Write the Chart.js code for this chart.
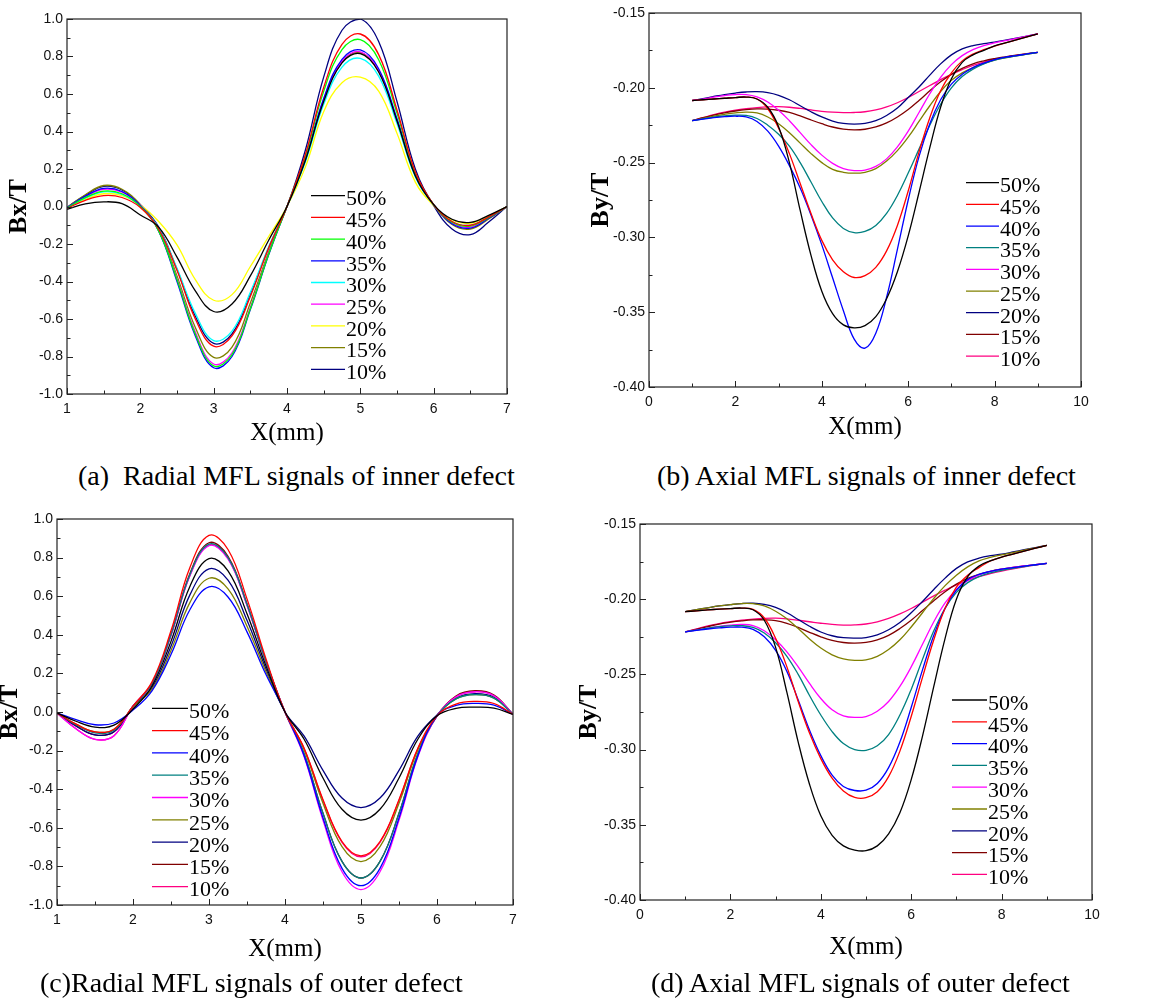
<!DOCTYPE html>
<html>
<head>
<meta charset="utf-8">
<script src="https://cdn.jsdelivr.net/npm/chart.js"></script>
<style>
  body { margin: 0; background: #fff; width: 1156px; height: 1001px; position: relative; overflow: hidden; }
  .box { position: absolute; }
  .cap { position: absolute; font-family: "Times New Roman", "Liberation Serif", serif; font-size: 28px; line-height: 28px; white-space: pre; color: #000; }
</style>
</head>
<body>
<div class="box" id="boxA"><canvas id="chartA"></canvas></div>
<div class="box" id="boxB"><canvas id="chartB"></canvas></div>
<div class="box" id="boxC"><canvas id="chartC"></canvas></div>
<div class="box" id="boxD"><canvas id="chartD"></canvas></div>

<div class="cap" style="left:78px;top:462px">(a)  Radial MFL signals of inner defect</div>
<div class="cap" style="left:657px;top:462px">(b) Axial MFL signals of inner defect</div>
<div class="cap" style="left:40px;top:969px">(c)Radial MFL signals of outer defect</div>
<div class="cap" style="left:651px;top:969px">(d) Axial MFL signals of outer defect</div>

<script>
// defect depths, same order in every panel
const depthLabels = ['50%', '45%', '40%', '35%', '30%', '25%', '20%', '15%', '10%'];

// x positions (mm)
const xRadial = [1, 1.25, 1.5, 1.75, 2, 2.25, 2.5, 2.75, 3, 3.25, 3.5, 3.75, 4, 4.25, 4.5, 4.75, 5, 5.25, 5.5, 5.75, 6, 6.25, 6.5, 6.75, 7];
const xAxial = [1, 1.25, 1.5, 1.75, 2, 2.25, 2.5, 2.75, 3, 3.25, 3.5, 3.75, 4, 4.25, 4.5, 4.75, 5, 5.25, 5.5, 5.75, 6, 6.25, 6.5, 6.75, 7, 7.25, 7.5, 7.75, 8, 8.25, 8.5, 8.75, 9];

// (a) radial signal, inner defect (Bx/T)
const a50 = [-0.015, 0.014, 0.025, 0.015, -0.045, -0.11, -0.27, -0.45, -0.56, -0.52, -0.37, -0.18, 0, 0.245, 0.56, 0.766, 0.815, 0.717, 0.456, 0.163, 0.01, -0.068, -0.085, -0.047, 0];
const a45 = [-0.01, 0.033, 0.058, 0.048, -0.005, -0.12, -0.34, -0.60, -0.745, -0.69, -0.48, -0.22, 0, 0.276, 0.635, 0.865, 0.92, 0.81, 0.515, 0.184, 0.01, -0.08, -0.10, -0.055, 0];
const a40 = [-0.008, 0.047, 0.082, 0.068, 0, -0.13, -0.39, -0.68, -0.85, -0.79, -0.545, -0.255, 0, 0.267, 0.614, 0.837, 0.89, 0.783, 0.498, 0.178, 0.01, -0.084, -0.105, -0.058, 0];
const a35 = [-0.006, 0.055, 0.097, 0.08, 0.005, -0.13, -0.40, -0.69, -0.86, -0.80, -0.55, -0.258, 0, 0.25, 0.576, 0.785, 0.835, 0.735, 0.468, 0.167, 0.01, -0.092, -0.115, -0.063, 0];
const a30 = [-0.008, 0.044, 0.078, 0.064, 0, -0.115, -0.33, -0.57, -0.715, -0.665, -0.458, -0.215, 0, 0.237, 0.545, 0.743, 0.79, 0.695, 0.442, 0.158, 0.01, -0.08, -0.10, -0.055, 0];
const a25 = [-0.006, 0.052, 0.092, 0.076, 0.005, -0.13, -0.385, -0.67, -0.84, -0.78, -0.538, -0.252, 0, 0.248, 0.569, 0.776, 0.825, 0.726, 0.462, 0.165, 0.01, -0.088, -0.11, -0.06, 0];
const a20 = [-0.008, 0.038, 0.068, 0.058, 0.008, -0.08, -0.205, -0.39, -0.50, -0.47, -0.32, -0.16, 0, 0.21, 0.505, 0.66, 0.69, 0.615, 0.39, 0.13, 0.005, -0.072, -0.09, -0.05, 0];
const a15 = [-0.005, 0.063, 0.112, 0.092, 0.01, -0.12, -0.37, -0.645, -0.805, -0.75, -0.515, -0.242, 0, 0.246, 0.566, 0.771, 0.82, 0.722, 0.459, 0.164, 0.01, -0.096, -0.12, -0.066, 0];
const a10 = [-0.005, 0.06, 0.107, 0.088, 0.01, -0.11, -0.335, -0.585, -0.73, -0.68, -0.467, -0.22, 0, 0.30, 0.69, 0.94, 1.0, 0.88, 0.56, 0.20, 0.005, -0.12, -0.15, -0.083, 0];

// (b) axial signal, inner defect (By/T)
const b50 = [-0.2085, -0.2080, -0.2075, -0.2070, -0.2065, -0.2062, -0.2075, -0.2130, -0.2260, -0.2500, -0.2820, -0.3120, -0.3360, -0.3510, -0.3585, -0.3605, -0.3590, -0.3530, -0.3410, -0.3230, -0.2990, -0.2700, -0.2400, -0.2130, -0.1940, -0.1830, -0.1780, -0.1750, -0.1720, -0.1700, -0.1680, -0.1660, -0.1640];
const b45 = [-0.2085, -0.2080, -0.2075, -0.2070, -0.2065, -0.2062, -0.2075, -0.2140, -0.2270, -0.2440, -0.2640, -0.2840, -0.3020, -0.3150, -0.3230, -0.3268, -0.3255, -0.3200, -0.3090, -0.2920, -0.2690, -0.2430, -0.2200, -0.2020, -0.1900, -0.1820, -0.1775, -0.1745, -0.1722, -0.1700, -0.1680, -0.1660, -0.1640];
const b40 = [-0.2220, -0.2210, -0.2200, -0.2193, -0.2190, -0.2195, -0.2225, -0.2290, -0.2390, -0.2520, -0.2670, -0.2850, -0.3050, -0.3270, -0.3490, -0.3680, -0.3740, -0.3640, -0.3400, -0.3080, -0.2750, -0.2460, -0.2240, -0.2080, -0.1975, -0.1910, -0.1865, -0.1835, -0.1812, -0.1795, -0.1785, -0.1773, -0.1763];
const b35 = [-0.2220, -0.2208, -0.2196, -0.2188, -0.2183, -0.2185, -0.2205, -0.2250, -0.2310, -0.2390, -0.2500, -0.2630, -0.2760, -0.2870, -0.2940, -0.2968, -0.2960, -0.2920, -0.2840, -0.2720, -0.2570, -0.2410, -0.2250, -0.2110, -0.2000, -0.1925, -0.1875, -0.1840, -0.1815, -0.1798, -0.1787, -0.1775, -0.1763];
const b30 = [-0.2085, -0.2075, -0.2063, -0.2052, -0.2045, -0.2045, -0.2060, -0.2095, -0.2150, -0.2220, -0.2300, -0.2380, -0.2450, -0.2505, -0.2540, -0.2553, -0.2550, -0.2525, -0.2475, -0.2395, -0.2290, -0.2165, -0.2040, -0.1930, -0.1845, -0.1785, -0.1745, -0.1718, -0.1700, -0.1685, -0.1670, -0.1655, -0.1640];
const b25 = [-0.2220, -0.2205, -0.2190, -0.2177, -0.2167, -0.2162, -0.2168, -0.2195, -0.2240, -0.2300, -0.2370, -0.2440, -0.2500, -0.2545, -0.2565, -0.2571, -0.2565, -0.2540, -0.2490, -0.2420, -0.2330, -0.2225, -0.2120, -0.2025, -0.1950, -0.1900, -0.1865, -0.1838, -0.1815, -0.1800, -0.1787, -0.1775, -0.1763];
const b20 = [-0.2085, -0.2072, -0.2058, -0.2045, -0.2035, -0.2028, -0.2026, -0.2032, -0.2050, -0.2080, -0.2120, -0.2160, -0.2195, -0.2222, -0.2238, -0.2243, -0.2238, -0.2220, -0.2185, -0.2135, -0.2065, -0.1995, -0.1915, -0.1840, -0.1780, -0.1740, -0.1718, -0.1705, -0.1695, -0.1682, -0.1668, -0.1654, -0.1640];
const b15 = [-0.2220, -0.2200, -0.2182, -0.2167, -0.2155, -0.2146, -0.2141, -0.2142, -0.2150, -0.2165, -0.2188, -0.2215, -0.2240, -0.2262, -0.2276, -0.2281, -0.2277, -0.2262, -0.2235, -0.2195, -0.2145, -0.2085, -0.2020, -0.1960, -0.1910, -0.1870, -0.1840, -0.1820, -0.1805, -0.1793, -0.1782, -0.1772, -0.1763];
const b10 = [-0.2220, -0.2200, -0.2180, -0.2163, -0.2150, -0.2140, -0.2132, -0.2127, -0.2126, -0.2130, -0.2138, -0.2148, -0.2157, -0.2163, -0.2166, -0.2165, -0.2160, -0.2148, -0.2128, -0.2100, -0.2065, -0.2025, -0.1985, -0.1945, -0.1910, -0.1878, -0.1850, -0.1828, -0.1810, -0.1796, -0.1784, -0.1773, -0.1763];

// (c) radial signal, outer defect (Bx/T)
const c50 = [-0.005, -0.048, -0.078, -0.068, 0.015, 0.135, 0.366, 0.652, 0.795, 0.731, 0.509, 0.239, 0, -0.14, -0.342, -0.504, -0.56, -0.504, -0.342, -0.14, -0.02, 0.019, 0.025, 0.02, -0.012];
const c45 = [-0.005, -0.063, -0.103, -0.089, 0.03, 0.156, 0.421, 0.75, 0.915, 0.842, 0.586, 0.275, 0, -0.186, -0.454, -0.671, -0.745, -0.671, -0.454, -0.186, -0.02, 0.041, 0.055, 0.044, -0.012];
const c40 = [-0.004, -0.04, -0.066, -0.057, 0.01, 0.11, 0.298, 0.531, 0.648, 0.596, 0.415, 0.194, 0, -0.225, -0.549, -0.81, -0.90, -0.81, -0.549, -0.225, -0.02, 0.034, 0.045, 0.036, -0.012];
const c35 = [-0.005, -0.066, -0.108, -0.094, 0.03, 0.148, 0.40, 0.713, 0.87, 0.80, 0.557, 0.261, 0, -0.215, -0.525, -0.774, -0.86, -0.774, -0.525, -0.215, -0.02, 0.068, 0.09, 0.072, -0.012];
const c30 = [-0.006, -0.087, -0.142, -0.123, 0.03, 0.147, 0.397, 0.707, 0.862, 0.793, 0.552, 0.259, 0, -0.23, -0.561, -0.828, -0.92, -0.828, -0.561, -0.23, -0.02, 0.079, 0.105, 0.084, -0.012];
const c25 = [-0.005, -0.063, -0.103, -0.089, 0.025, 0.118, 0.319, 0.568, 0.693, 0.638, 0.444, 0.208, 0, -0.194, -0.473, -0.698, -0.775, -0.698, -0.473, -0.194, -0.02, 0.068, 0.09, 0.072, -0.012];
const c20 = [-0.005, -0.072, -0.118, -0.102, 0.025, 0.126, 0.341, 0.608, 0.742, 0.683, 0.475, 0.223, 0, -0.124, -0.302, -0.446, -0.495, -0.446, -0.302, -0.124, -0.015, 0.071, 0.095, 0.076, -0.012];
const c15 = [-0.005, -0.072, -0.118, -0.102, 0.03, 0.149, 0.403, 0.719, 0.877, 0.807, 0.561, 0.263, 0, -0.215, -0.525, -0.774, -0.86, -0.774, -0.525, -0.215, -0.02, 0.083, 0.11, 0.088, -0.012];
const c10 = [-0.006, -0.087, -0.142, -0.123, 0.03, 0.147, 0.398, 0.709, 0.865, 0.796, 0.554, 0.26, 0, -0.188, -0.458, -0.675, -0.75, -0.675, -0.458, -0.188, -0.02, 0.079, 0.105, 0.084, -0.012];

// (d) axial signal, outer defect (By/T)
const d50 = [-0.2083, -0.2077, -0.2071, -0.2066, -0.2062, -0.2059, -0.2070, -0.2140, -0.2320, -0.2620, -0.2950, -0.3230, -0.3440, -0.3570, -0.3640, -0.3668, -0.3672, -0.3640, -0.3560, -0.3420, -0.3200, -0.2910, -0.2580, -0.2260, -0.2000, -0.1850, -0.1780, -0.1745, -0.1720, -0.1700, -0.1680, -0.1661, -0.1642];
const d45 = [-0.2083, -0.2077, -0.2071, -0.2066, -0.2062, -0.2059, -0.2068, -0.2125, -0.2260, -0.2450, -0.2680, -0.2890, -0.3060, -0.3190, -0.3275, -0.3318, -0.3320, -0.3280, -0.3180, -0.3010, -0.2780, -0.2520, -0.2270, -0.2060, -0.1920, -0.1840, -0.1790, -0.1745, -0.1720, -0.1700, -0.1680, -0.1661, -0.1642];
const d40 = [-0.2217, -0.2207, -0.2198, -0.2191, -0.2186, -0.2186, -0.2200, -0.2250, -0.2340, -0.2480, -0.2670, -0.2870, -0.3040, -0.3170, -0.3245, -0.3272, -0.3270, -0.3225, -0.3120, -0.2950, -0.2720, -0.2470, -0.2240, -0.2060, -0.1940, -0.1870, -0.1835, -0.1815, -0.1800, -0.1790, -0.1780, -0.1771, -0.1762];
const d35 = [-0.2217, -0.2205, -0.2193, -0.2183, -0.2177, -0.2176, -0.2188, -0.2225, -0.2290, -0.2380, -0.2500, -0.2640, -0.2770, -0.2880, -0.2960, -0.3000, -0.3005, -0.2975, -0.2900, -0.2770, -0.2600, -0.2400, -0.2210, -0.2060, -0.1955, -0.1890, -0.1850, -0.1825, -0.1808, -0.1795, -0.1783, -0.1772, -0.1762];
const d30 = [-0.2217, -0.2205, -0.2192, -0.2180, -0.2172, -0.2168, -0.2175, -0.2210, -0.2270, -0.2350, -0.2450, -0.2560, -0.2660, -0.2735, -0.2775, -0.2786, -0.2780, -0.2745, -0.2680, -0.2580, -0.2450, -0.2300, -0.2150, -0.2025, -0.1935, -0.1875, -0.1838, -0.1815, -0.1800, -0.1788, -0.1778, -0.1770, -0.1762];
const d25 = [-0.2083, -0.2070, -0.2057, -0.2045, -0.2036, -0.2029, -0.2030, -0.2045, -0.2080, -0.2130, -0.2195, -0.2265, -0.2325, -0.2370, -0.2397, -0.2407, -0.2403, -0.2380, -0.2335, -0.2270, -0.2185, -0.2090, -0.1995, -0.1910, -0.1840, -0.1785, -0.1745, -0.1722, -0.1705, -0.1690, -0.1674, -0.1658, -0.1642];
const d20 = [-0.2083, -0.2070, -0.2057, -0.2045, -0.2036, -0.2029, -0.2027, -0.2035, -0.2055, -0.2090, -0.2135, -0.2180, -0.2218, -0.2243, -0.2256, -0.2259, -0.2255, -0.2237, -0.2203, -0.2155, -0.2090, -0.2015, -0.1935, -0.1860, -0.1795, -0.1752, -0.1727, -0.1711, -0.1700, -0.1686, -0.1671, -0.1657, -0.1642];
const d15 = [-0.2217, -0.2200, -0.2182, -0.2165, -0.2153, -0.2144, -0.2138, -0.2137, -0.2142, -0.2160, -0.2188, -0.2220, -0.2250, -0.2274, -0.2288, -0.2292, -0.2287, -0.2270, -0.2240, -0.2195, -0.2140, -0.2075, -0.2010, -0.1950, -0.1900, -0.1862, -0.1835, -0.1815, -0.1800, -0.1788, -0.1778, -0.1770, -0.1762];
const d10 = [-0.2217, -0.2197, -0.2178, -0.2162, -0.2150, -0.2140, -0.2132, -0.2127, -0.2126, -0.2131, -0.2140, -0.2150, -0.2160, -0.2168, -0.2172, -0.2171, -0.2165, -0.2150, -0.2128, -0.2098, -0.2062, -0.2020, -0.1978, -0.1940, -0.1905, -0.1875, -0.1850, -0.1830, -0.1813, -0.1798, -0.1785, -0.1773, -0.1762];

// line colours (Origin default palette)
const coloursA = ['#000000', '#ff0000', '#00ff00', '#0000ff', '#00ffff', '#ff00ff', '#ffff00', '#808000', '#000080'];
const coloursBCD = ['#000000', '#ff0000', '#0000ff', '#008080', '#ff00ff', '#808000', '#000080', '#800000', '#ff0080'];

const serif = '"Times New Roman", "Liberation Serif", serif';
const sans = 'Arial, "Liberation Sans", sans-serif';

// box, inward ticks (major + minor at the midpoints)
const frameTicks = {
  id: 'frameTicks',
  afterDatasetsDraw(chart) {
    const { ctx, chartArea: a, scales: { x, y } } = chart;
    ctx.save();
    ctx.strokeStyle = '#222';
    ctx.lineWidth = 1.2;
    ctx.strokeRect(a.left, a.top, a.right - a.left, a.bottom - a.top);
    ctx.beginPath();
    const xt = x.ticks.map(t => t.value);
    xt.forEach((v, i) => {
      const p = Math.round(x.getPixelForValue(v)) + 0.5;
      ctx.moveTo(p, a.bottom); ctx.lineTo(p, a.bottom - 6);
      if (i < xt.length - 1) {
        const m = Math.round(x.getPixelForValue((v + xt[i + 1]) / 2)) + 0.5;
        ctx.moveTo(m, a.bottom); ctx.lineTo(m, a.bottom - 3.5);
      }
    });
    const yt = y.ticks.map(t => t.value);
    yt.forEach((v, i) => {
      const p = Math.round(y.getPixelForValue(v)) + 0.5;
      ctx.moveTo(a.left, p); ctx.lineTo(a.left + 6, p);
      if (i < yt.length - 1) {
        const m = Math.round(y.getPixelForValue((v + yt[i + 1]) / 2)) + 0.5;
        ctx.moveTo(a.left, m); ctx.lineTo(a.left + 3.5, m);
      }
    });
    ctx.lineWidth = 1;
    ctx.stroke();
    ctx.restore();
  }
};

// legend sitting inside the plot
const insideLegend = {
  id: 'insideLegend',
  afterDatasetsDraw(chart, args, opts) {
    const ctx = chart.ctx;
    ctx.save();
    ctx.font = '22px ' + serif;
    ctx.textBaseline = 'middle';
    ctx.fillStyle = '#000';
    chart.data.datasets.forEach((ds, i) => {
      const yy = opts.y + i * opts.gap;
      ctx.strokeStyle = ds.borderColor;
      ctx.lineWidth = 1.3;
      ctx.beginPath();
      ctx.moveTo(opts.x, yy); ctx.lineTo(opts.x + opts.len, yy);
      ctx.stroke();
      ctx.fillText(ds.label, opts.x + opts.len + 1, yy + 4);
    });
    ctx.restore();
  }
};

function fmt(v, d) {
  if (Math.abs(v) < 1e-9) v = 0;
  return v.toFixed(d);
}

// box: [left, top, width, height] of the canvas on the page
// area: [left, top, right, bottom] wanted plot frame on the page
function panel(id, box, area, xs, series, colours, ax, leg) {
  const wrap = document.getElementById('box' + id);
  wrap.style.left = box[0] + 'px';
  wrap.style.top = box[1] + 'px';
  const cv = document.getElementById('chart' + id);
  cv.width = box[2];
  cv.height = box[3];
  const yW = area[0] - box[0];
  const xH = box[1] + box[3] - area[3];

  return new Chart(cv, {
    type: 'line',
    data: {
      datasets: series.map((ys, i) => ({
        label: depthLabels[i],
        data: xs.map((x, j) => ({ x: x, y: ys[j] })),
        borderColor: colours[i],
        borderWidth: 1.3,
        pointRadius: 0,
        tension: 0.4,
        fill: false
      }))
    },
    options: {
      responsive: false,
      animation: false,
      events: [],
      layout: { padding: { left: 0, top: area[1] - box[1], right: box[0] + box[2] - area[2], bottom: 0 } },
      plugins: {
        legend: { display: false },
        tooltip: { enabled: false },
        insideLegend: { x: leg.x - box[0], y: leg.y - box[1], gap: leg.gap, len: leg.len }
      },
      scales: {
        x: {
          type: 'linear',
          min: ax.xMin, max: ax.xMax,
          grid: { display: false, drawTicks: false },
          border: { display: false },
          ticks: { stepSize: ax.xStep, padding: 7, color: '#111', font: { family: sans, size: 14 }, maxRotation: 0,
                   callback: v => fmt(v, 0) },
          title: { display: true, text: 'X(mm)', color: '#000', font: { family: serif, size: 25, lineHeight: 1 },
                   padding: { top: 0, bottom: box[1] + box[3] - ax.xTitleY - 12.5 } },
          afterFit: s => { s.height = xH; }
        },
        y: {
          min: ax.yMin, max: ax.yMax,
          grid: { display: false, drawTicks: false },
          border: { display: false },
          ticks: { stepSize: ax.yStep, padding: 4, color: '#111', font: { family: sans, size: 14 },
                   callback: v => fmt(v, ax.yDec) },
          title: { display: true, text: ax.yTitle, color: '#000', font: { family: serif, size: 26, weight: 'bold', lineHeight: 1 },
                   padding: { top: ax.yTitleX - box[0] - 13, bottom: 0 } },
          afterFit: s => { s.width = yW; }
        }
      }
    },
    plugins: [frameTicks, insideLegend]
  });
}

panel('A', [0, 0, 545, 455], [67, 19, 507, 394], xRadial,
  [a50, a45, a40, a35, a30, a25, a20, a15, a10], coloursA,
  { xMin: 1, xMax: 7, xStep: 1, yMin: -1, yMax: 1, yStep: 0.2, yDec: 1, yTitle: 'Bx/T', yTitleX: 19, xTitleY: 433 },
  { x: 311, y: 195.7, gap: 21.7, len: 34 });

panel('B', [578, 0, 578, 455], [649, 13, 1081, 387], xAxial,
  [b50, b45, b40, b35, b30, b25, b20, b15, b10], coloursBCD,
  { xMin: 0, xMax: 10, xStep: 2, yMin: -0.40, yMax: -0.15, yStep: 0.05, yDec: 2, yTitle: 'By/T', yTitleX: 601, xTitleY: 427 },
  { x: 966, y: 182.7, gap: 21.67, len: 33 });

panel('C', [-6, 500, 551, 470], [57, 519, 513, 905], xRadial,
  [c50, c45, c40, c35, c30, c25, c20, c15, c10], coloursBCD,
  { xMin: 1, xMax: 7, xStep: 1, yMin: -1, yMax: 1, yStep: 0.2, yDec: 1, yTitle: 'Bx/T', yTitleX: 10, xTitleY: 949 },
  { x: 152, y: 708.3, gap: 22.3, len: 36 });

panel('D', [572, 500, 584, 470], [640, 524, 1092, 900], xAxial,
  [d50, d45, d40, d35, d30, d25, d20, d15, d10], coloursBCD,
  { xMin: 0, xMax: 10, xStep: 2, yMin: -0.40, yMax: -0.15, yStep: 0.05, yDec: 2, yTitle: 'By/T', yTitleX: 589, xTitleY: 947 },
  { x: 952, y: 700, gap: 21.8, len: 35 });
</script>
</body>
</html>
